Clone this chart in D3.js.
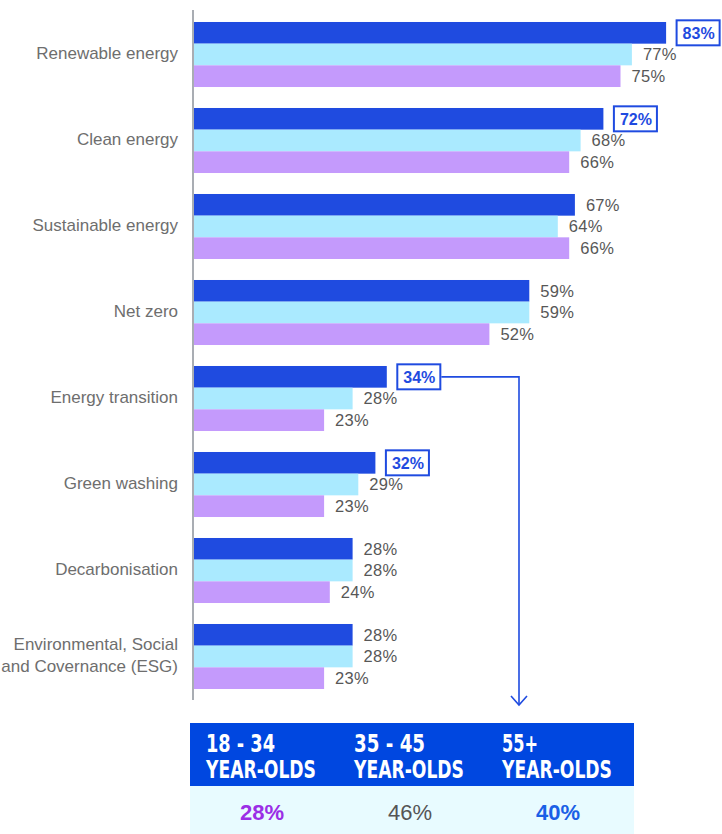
<!DOCTYPE html>
<html>
<head>
<meta charset="utf-8">
<script src="https://cdn.jsdelivr.net/npm/d3@7"></script>
<style>
  html, body { margin: 0; padding: 0; background: #fff; }
  svg { display: block; }
</style>
</head>
<body>
<svg id="chart" width="722" height="834"></svg>
<script>
// Awareness of energy terms, by age group (%)
const categories = [
  "Renewable energy",
  "Clean energy",
  "Sustainable energy",
  "Net zero",
  "Energy transition",
  "Green washing",
  "Decarbonisation",
  "Environmental, Social|and Covernance (ESG)"
];
const ageGroups = ["18 - 34", "35 - 45", "55+"];
const young = [83, 72, 67, 59, 34, 32, 28, 28];
const middle = [77, 68, 64, 59, 28, 29, 28, 28];
const older = [75, 66, 66, 52, 23, 23, 24, 23];
// Groups whose 18-34 value is called out in a box
const boxed = [true, true, false, false, true, true, false, false];
// Share of each age group in the summary row
const summary = [28, 46, 40];

const colors = ["#1f4be0", "#aaeaff", "#c49afc"];
const series = [young, middle, older];
const sansFont = "Liberation Sans, Arial, sans-serif";

const svg = d3.select("#chart");
const x0 = 193;
const x = d3.scaleLinear().domain([0, 100]).range([x0, x0 + 570]);
const y = d3.scaleBand().domain(categories).range([11.5, 699.5])
  .paddingInner(0.244).paddingOuter(0.122);
const sub = d3.scaleBand().domain([0, 1, 2]).range([0, y.bandwidth()]);

// bars
categories.forEach((c, i) => {
  const g = svg.append("g").attr("transform", `translate(0,${y(c)})`);
  series.forEach((s, k) => {
    g.append("rect")
      .attr("x", x(0))
      .attr("y", sub(k))
      .attr("width", x(s[i]) - x(0))
      .attr("height", sub.bandwidth())
      .attr("fill", colors[k]);
  });
});

// value labels; boxed callouts remember their right edge
const boxRight = {};
categories.forEach((c, i) => {
  series.forEach((s, k) => {
    const v = s[i];
    const cy = y(c) + sub(k) + sub.bandwidth() / 2;
    if (k === 0 && boxed[i]) {
      const bx = x(v) + 10.5;
      const t = svg.append("text")
        .attr("x", bx + 6)
        .attr("y", cy)
        .attr("dy", "0.36em")
        .attr("font-family", sansFont)
        .attr("font-weight", "bold")
        .attr("font-size", 16)
        .attr("fill", "#1f4be0")
        .text(v + "%");
      const w = t.node().getComputedTextLength() + 11;
      svg.insert("rect", "text")
        .attr("x", bx)
        .attr("y", cy - 12.5)
        .attr("width", w)
        .attr("height", 25)
        .attr("fill", "#fff")
        .attr("stroke", "#1f4be0")
        .attr("stroke-width", 2);
      boxRight[i] = bx + w;
    } else {
      svg.append("text")
        .attr("x", x(v) + 11)
        .attr("y", cy)
        .attr("dy", "0.36em")
        .attr("font-family", sansFont)
        .attr("font-size", 16.5)
        .attr("letter-spacing", 0.3)
        .attr("fill", "#575757")
        .text(v + "%");
    }
  });
});

// category axis
svg.append("line")
  .attr("x1", x0).attr("x2", x0)
  .attr("y1", 10).attr("y2", 700)
  .attr("stroke", "#a9adb3").attr("stroke-width", 2);

categories.forEach(c => {
  const lines = c.split("|");
  const cy = y(c) + y.bandwidth() / 2 - 1.5;
  const t = svg.append("text")
    .attr("text-anchor", "end")
    .attr("font-family", sansFont)
    .attr("font-size", 17)
    .attr("fill", "#6e6e6e");
  lines.forEach((l, j) => {
    t.append("tspan")
      .attr("x", 178)
      .attr("y", cy + (j - (lines.length - 1) / 2) * 22)
      .attr("dy", "0.36em")
      .text(l);
  });
});

// connector from the energy transition callout down to the summary table
const ci = 4;
const cyConn = y(categories[ci]) + sub(0) + sub.bandwidth() / 2;
const ax = 519;
svg.append("path")
  .attr("d", `M${boxRight[ci] + 1},${cyConn} H${ax} V705`)
  .attr("fill", "none")
  .attr("stroke", "#1f4be0")
  .attr("stroke-width", 1.6);
svg.append("path")
  .attr("d", `M${ax - 8},${696} L${ax},${705} L${ax + 8},${696}`)
  .attr("fill", "none")
  .attr("stroke", "#1f4be0")
  .attr("stroke-width", 1.6);

// summary table
const tx = 190, tw = 444;
svg.append("rect").attr("x", tx).attr("y", 723).attr("width", tw).attr("height", 63).attr("fill", "#0047e0");
svg.append("rect").attr("x", tx).attr("y", 786).attr("width", tw).attr("height", 48).attr("fill", "#e8fbff");
const col = d3.scalePoint().domain(ageGroups).range([206, 502]);
const headWidth = { "18 - 34": 69, "35 - 45": 71, "55+": 36 };
ageGroups.forEach(a => {
  const t = svg.append("text")
    .attr("font-family", "DejaVu Sans, sans-serif")
    .attr("font-weight", "bold")
    .attr("font-size", 24)
    .attr("fill", "#fff");
  t.append("tspan").attr("x", col(a)).attr("y", 752)
    .attr("textLength", headWidth[a]).attr("lengthAdjust", "spacingAndGlyphs")
    .text(a);
  t.append("tspan").attr("x", col(a)).attr("y", 778)
    .attr("textLength", 110).attr("lengthAdjust", "spacingAndGlyphs")
    .text("YEAR-OLDS");
});
const sumStyles = [
  { fill: "#9b2ee6", weight: "bold" },
  { fill: "#555", weight: "normal" },
  { fill: "#1a5fe6", weight: "bold" }
];
ageGroups.forEach((a, k) => {
  svg.append("text")
    .attr("x", col(a) + 56)
    .attr("y", 812)
    .attr("dy", "0.36em")
    .attr("text-anchor", "middle")
    .attr("font-family", sansFont)
    .attr("font-weight", sumStyles[k].weight)
    .attr("font-size", 22)
    .attr("fill", sumStyles[k].fill)
    .text(summary[k] + "%");
});
</script>
</body>
</html>
